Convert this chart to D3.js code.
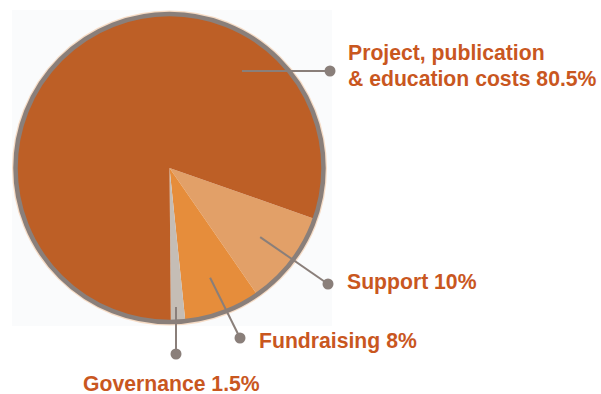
<!DOCTYPE html>
<html><head><meta charset="utf-8">
<script src="https://cdn.jsdelivr.net/npm/d3@7"></script>
<style>body{margin:0;background:#fff}svg{display:block}</style>
</head><body>
<svg id="c" width="601" height="394"></svg>
<script>
const categories = ["Support", "Fundraising", "Governance", "Project, publication & education costs"];
const values = [10, 8, 1.5, 80.5];
const labelLines = [["Support 10%"], ["Fundraising 8%"], ["Governance 1.5%"], ["Project, publication", "& education costs 80.5%"]];
const colors = ["#e2a068", "#e68d3b", "#c5bdb5", "#bd5f26"];

const svg = d3.select("#c");
const cx = 169.5, cy = 168, R = 154;
svg.append("rect").attr("x", 12).attr("y", 10).attr("width", 320).attr("height", 316).attr("fill", "#fafbfc");
const g = svg.append("g").attr("transform", `translate(${cx},${cy})`);
const start = 109.3 * Math.PI / 180;
const pie = d3.pie().sort(null).value(d => d).startAngle(start).endAngle(start + 2 * Math.PI);
const arcs = pie(values);
const arc = d3.arc().innerRadius(0).outerRadius(R);
g.selectAll("path.s").data(arcs).join("path").attr("class", "s")
  .attr("d", arc).attr("fill", (d, i) => colors[i]);
g.append("circle").attr("r", R + 2.5).attr("fill", "none").attr("stroke", "#f6dcc6").attr("stroke-width", 2);
g.append("circle").attr("r", R).attr("fill", "none").attr("stroke", "#8a7f7a").attr("stroke-width", 4.5);

const leaders = [
  {r0: 0.74, dot: [328, 284]},
  {r0: 0.76, dot: [240, 338]},
  {r0: 0.91, dot: [176, 354]},
  {r0: 0.0, dot: [330, 71]}
];
const lineCol = "#8a7f7a";
arcs.forEach((a, i) => {
  let p0;
  if (i === 3) p0 = [242, 71];
  else if (i === 2) p0 = [176, 307];
  else {
    const mid = (a.startAngle + a.endAngle) / 2;
    const rr = R * leaders[i].r0;
    p0 = [cx + rr * Math.sin(mid), cy - rr * Math.cos(mid)];
  }
  const d = leaders[i].dot;
  svg.append("line").attr("x1", p0[0]).attr("y1", p0[1]).attr("x2", d[0]).attr("y2", d[1])
    .attr("stroke", lineCol).attr("stroke-width", 2);
  svg.append("circle").attr("cx", d[0]).attr("cy", d[1]).attr("r", 5.5).attr("fill", lineCol);
});

const labelPos = [[347, 289], [259, 348], [83, 391], [348, 60]];
labelLines.forEach((lines, i) => {
  const t = svg.append("text").attr("x", labelPos[i][0]).attr("y", labelPos[i][1])
    .attr("font-family", "Liberation Sans, Arial, sans-serif").attr("font-weight", "bold")
    .attr("font-size", 21.2).attr("fill", "#c9571f");
  lines.forEach((l, j) => t.append("tspan").attr("x", labelPos[i][0]).attr("dy", j === 0 ? 0 : 26).text(l));
});
</script>
</body></html>
